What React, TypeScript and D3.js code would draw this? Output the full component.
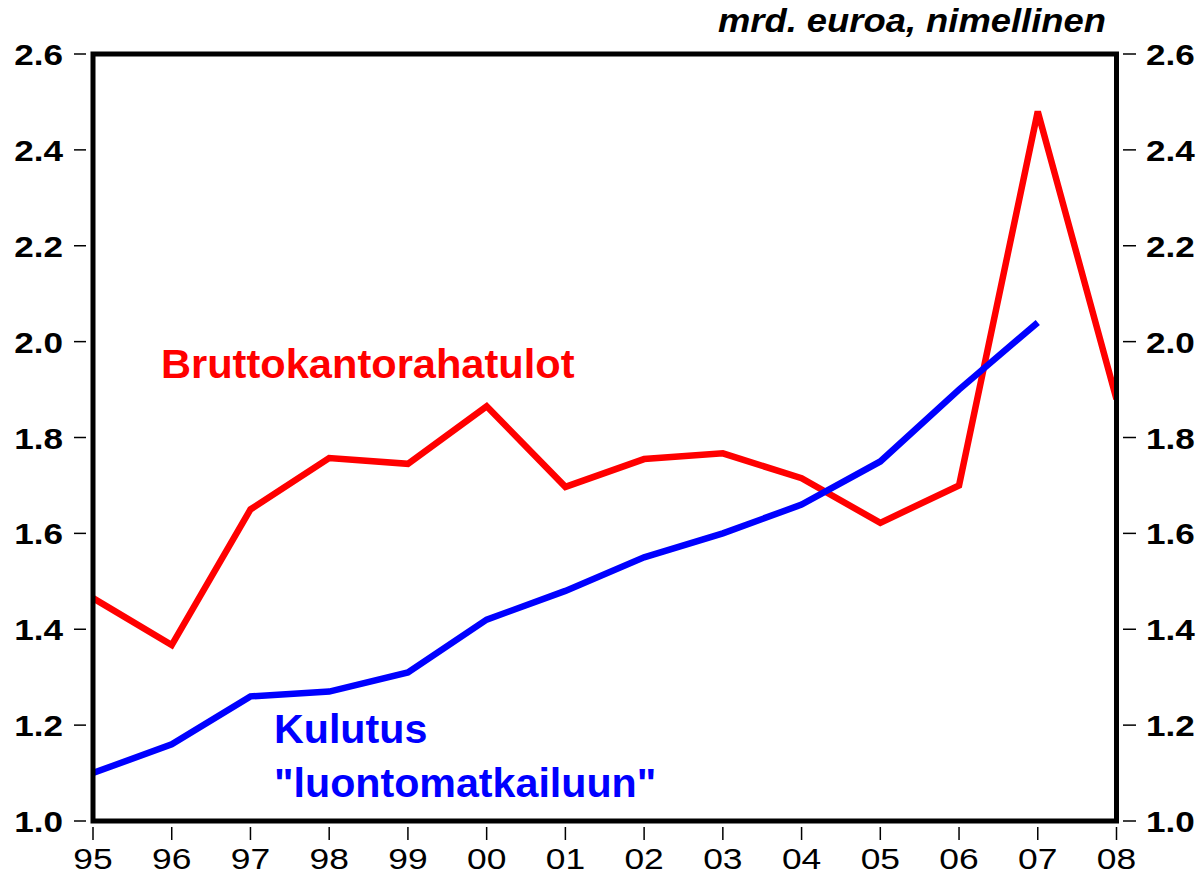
import React from "react";
import * as d3 from "d3";

const years = ["95","96","97","98","99","00","01","02","03","04","05","06","07","08"];
const bruttoValues = [1.465, 1.367, 1.65, 1.757, 1.745, 1.865, 1.697, 1.755, 1.767, 1.715, 1.622, 1.70, 2.48, 1.88];
const kulutusValues = [1.10, 1.16, 1.26, 1.27, 1.31, 1.42, 1.48, 1.55, 1.60, 1.66, 1.75, 1.90, 2.04];
const yTicks = [1.0, 1.2, 1.4, 1.6, 1.8, 2.0, 2.2, 2.4, 2.6];

const W = 1201, H = 876;
const L = 93, R = 1116.5, T = 54, B = 821;
const FONT = "'Liberation Sans', Arial, sans-serif";

type TProps = {
  x: number; y: number; sx: number; size: number; anchor?: "start" | "middle" | "end";
  bold?: boolean; italic?: boolean; fill?: string; children: React.ReactNode;
};
function T2({ x, y, sx, size, anchor = "start", bold, italic, fill = "#000", children }: TProps) {
  return (
    <text transform={`translate(${x},${y}) scale(${sx},1)`} textAnchor={anchor} fontFamily={FONT}
      fontWeight={bold ? "bold" : "normal"} fontStyle={italic ? "italic" : "normal"} fontSize={size} fill={fill}>
      {children}
    </text>
  );
}

export default function App() {
  const x = d3.scaleLinear().domain([0, years.length - 1]).range([L, R]);
  const y = d3.scaleLinear().domain([1.0, 2.6]).range([B, T]);
  const line = d3.line<number>().x((_, i) => x(i)).y((d) => y(d));

  return (
    <svg width={W} height={H} style={{ position: "absolute", left: 0, top: 0, background: "#fff" }}>
      <defs>
        <clipPath id="plot">
          <rect x={L} y={T} width={R - L} height={B - T} />
        </clipPath>
      </defs>
      <g clipPath="url(#plot)">
        <path d={line(bruttoValues) || ""} fill="none" stroke="#ff0000" strokeWidth={6.5} strokeLinejoin="miter" />
        <path d={line(kulutusValues) || ""} fill="none" stroke="#0000ff" strokeWidth={6.5} strokeLinejoin="miter" />
      </g>
      <rect x={L} y={T} width={R - L} height={B - T} fill="none" stroke="#000" strokeWidth={5} />
      {yTicks.map((t) => (
        <g key={t}>
          <line x1={74} x2={86} y1={y(t)} y2={y(t)} stroke="#000" strokeWidth={1.5} />
          <line x1={1123} x2={1136} y1={y(t)} y2={y(t)} stroke="#000" strokeWidth={1.5} />
          <T2 x={63} y={y(t) + 11} sx={1.17} size={30} anchor="end" bold>{t.toFixed(1)}</T2>
          <T2 x={1146} y={y(t) + 11} sx={1.17} size={30} anchor="start" bold>{t.toFixed(1)}</T2>
        </g>
      ))}
      {years.map((yr, i) => (
        <g key={yr}>
          <line x1={x(i)} x2={x(i)} y1={827} y2={840} stroke="#000" strokeWidth={1.5} />
          <T2 x={x(i)} y={869} sx={1.18} size={30} anchor="middle">{yr}</T2>
        </g>
      ))}
      <T2 x={1106} y={32} sx={1.07} size={34} anchor="end" bold italic>mrd. euroa, nimellinen</T2>
      <T2 x={161} y={378} sx={1.04} size={40} bold fill="#ff0000">Bruttokantorahatulot</T2>
      <T2 x={274} y={743} sx={1.03} size={40} bold fill="#0000ff">Kulutus</T2>
      <T2 x={274} y={797} sx={1.03} size={40} bold fill="#0000ff">"luontomatkailuun"</T2>
    </svg>
  );
}
